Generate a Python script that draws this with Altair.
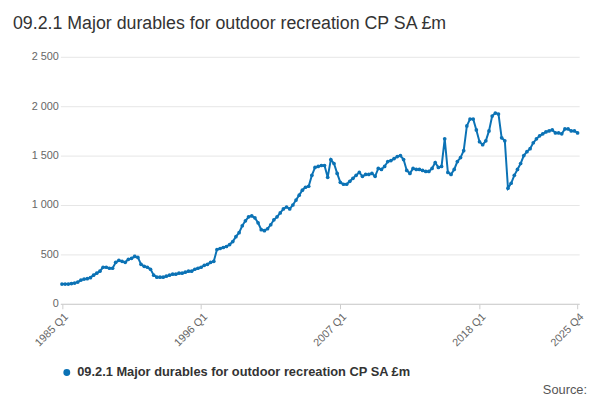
import altair as alt
import pandas as pd

years = list(range(1985, 2026))
values = [
    200,200,200,205, 210,220,240,250, 255,265,290,310, 330,370,370,360,
    360,420,440,430, 420,450,460,480, 470,400,380,370, 350,290,270,270,
    270,280,290,300, 300,310,310,320, 330,330,350,360, 370,390,400,420,
    430,550,560,570, 580,600,630,680, 720,790,840,880, 890,870,820,750,
    740,760,800,850, 880,920,960,980, 960,1000,1050,1100, 1150,1180,1190,1300,
    1380,1390,1400,1400, 1280,1460,1420,1320, 1230,1210,1210,1240, 1270,1300,1330,1290,
    1310,1310,1320,1290, 1370,1360,1390,1440, 1450,1470,1490,1500, 1460,1350,1320,1370,
    1360,1360,1350,1340, 1340,1370,1430,1380, 1390,1670,1330,1310, 1360,1440,1480,1550,
    1800,1870,1870,1760, 1640,1610,1650,1750, 1900,1930,1920,1680, 1650,1170,1220,1300,
    1360,1420,1500,1540, 1570,1630,1670,1700, 1720,1740,1750,1760, 1730,1730,1720,1770,
    1770,1750,1750,1730,
]
periods = [f"{y} Q{q}" for y in years for q in range(1, 5)]
series = "09.2.1 Major durables for outdoor recreation CP SA £m"
df = pd.DataFrame({"period": periods, "value": values, "series": series})
shown = ["1985 Q1", "1996 Q1", "2007 Q1", "2018 Q1", "2025 Q4"]

base = alt.Chart(df).encode(
    x=alt.X("period:O", sort=periods, title=None,
            axis=alt.Axis(values=shown, labelAngle=-45, labelColor="#666", labelFontSize=11,
                          domainColor="#ccc", tickColor="#ccc", grid=False, labelPadding=2)),
    y=alt.Y("value:Q", title=None, scale=alt.Scale(domain=[0, 2500]),
            axis=alt.Axis(values=[0, 500, 1000, 1500, 2000, 2500], domain=False, ticks=False,
                          labelColor="#666", labelFontSize=11, gridColor="#e6e6e6", minExtent=48,
                          labelExpr="replace(format(datum.value, ','), ',', ' ')")),
    color=alt.Color("series:N", scale=alt.Scale(range=["#0b72b5"]),
                    legend=alt.Legend(title=None, orient="bottom", labelFontSize=13,
                                      labelFontWeight="bold", labelColor="#333",
                                      symbolType="circle", symbolSize=30, labelLimit=500)),
)
line = base.mark_line(strokeWidth=2, point=alt.OverlayMarkDef(size=14, filled=True))
src = alt.Chart(pd.DataFrame({"t": ["Source:"]})).mark_text(
    align="right", fontSize=13, color="#555").encode(
    text="t:N", x=alt.value(533), y=alt.value(337))

chart = alt.layer(line, src).properties(
    width=525, height=250,
    title=alt.TitleParams(series, anchor="start", fontSize=18, fontWeight="normal",
                          color="#333", offset=18),
).configure_view(stroke=None)

chart.save("out.html", embed_options={"renderer": "svg", "actions": False})
